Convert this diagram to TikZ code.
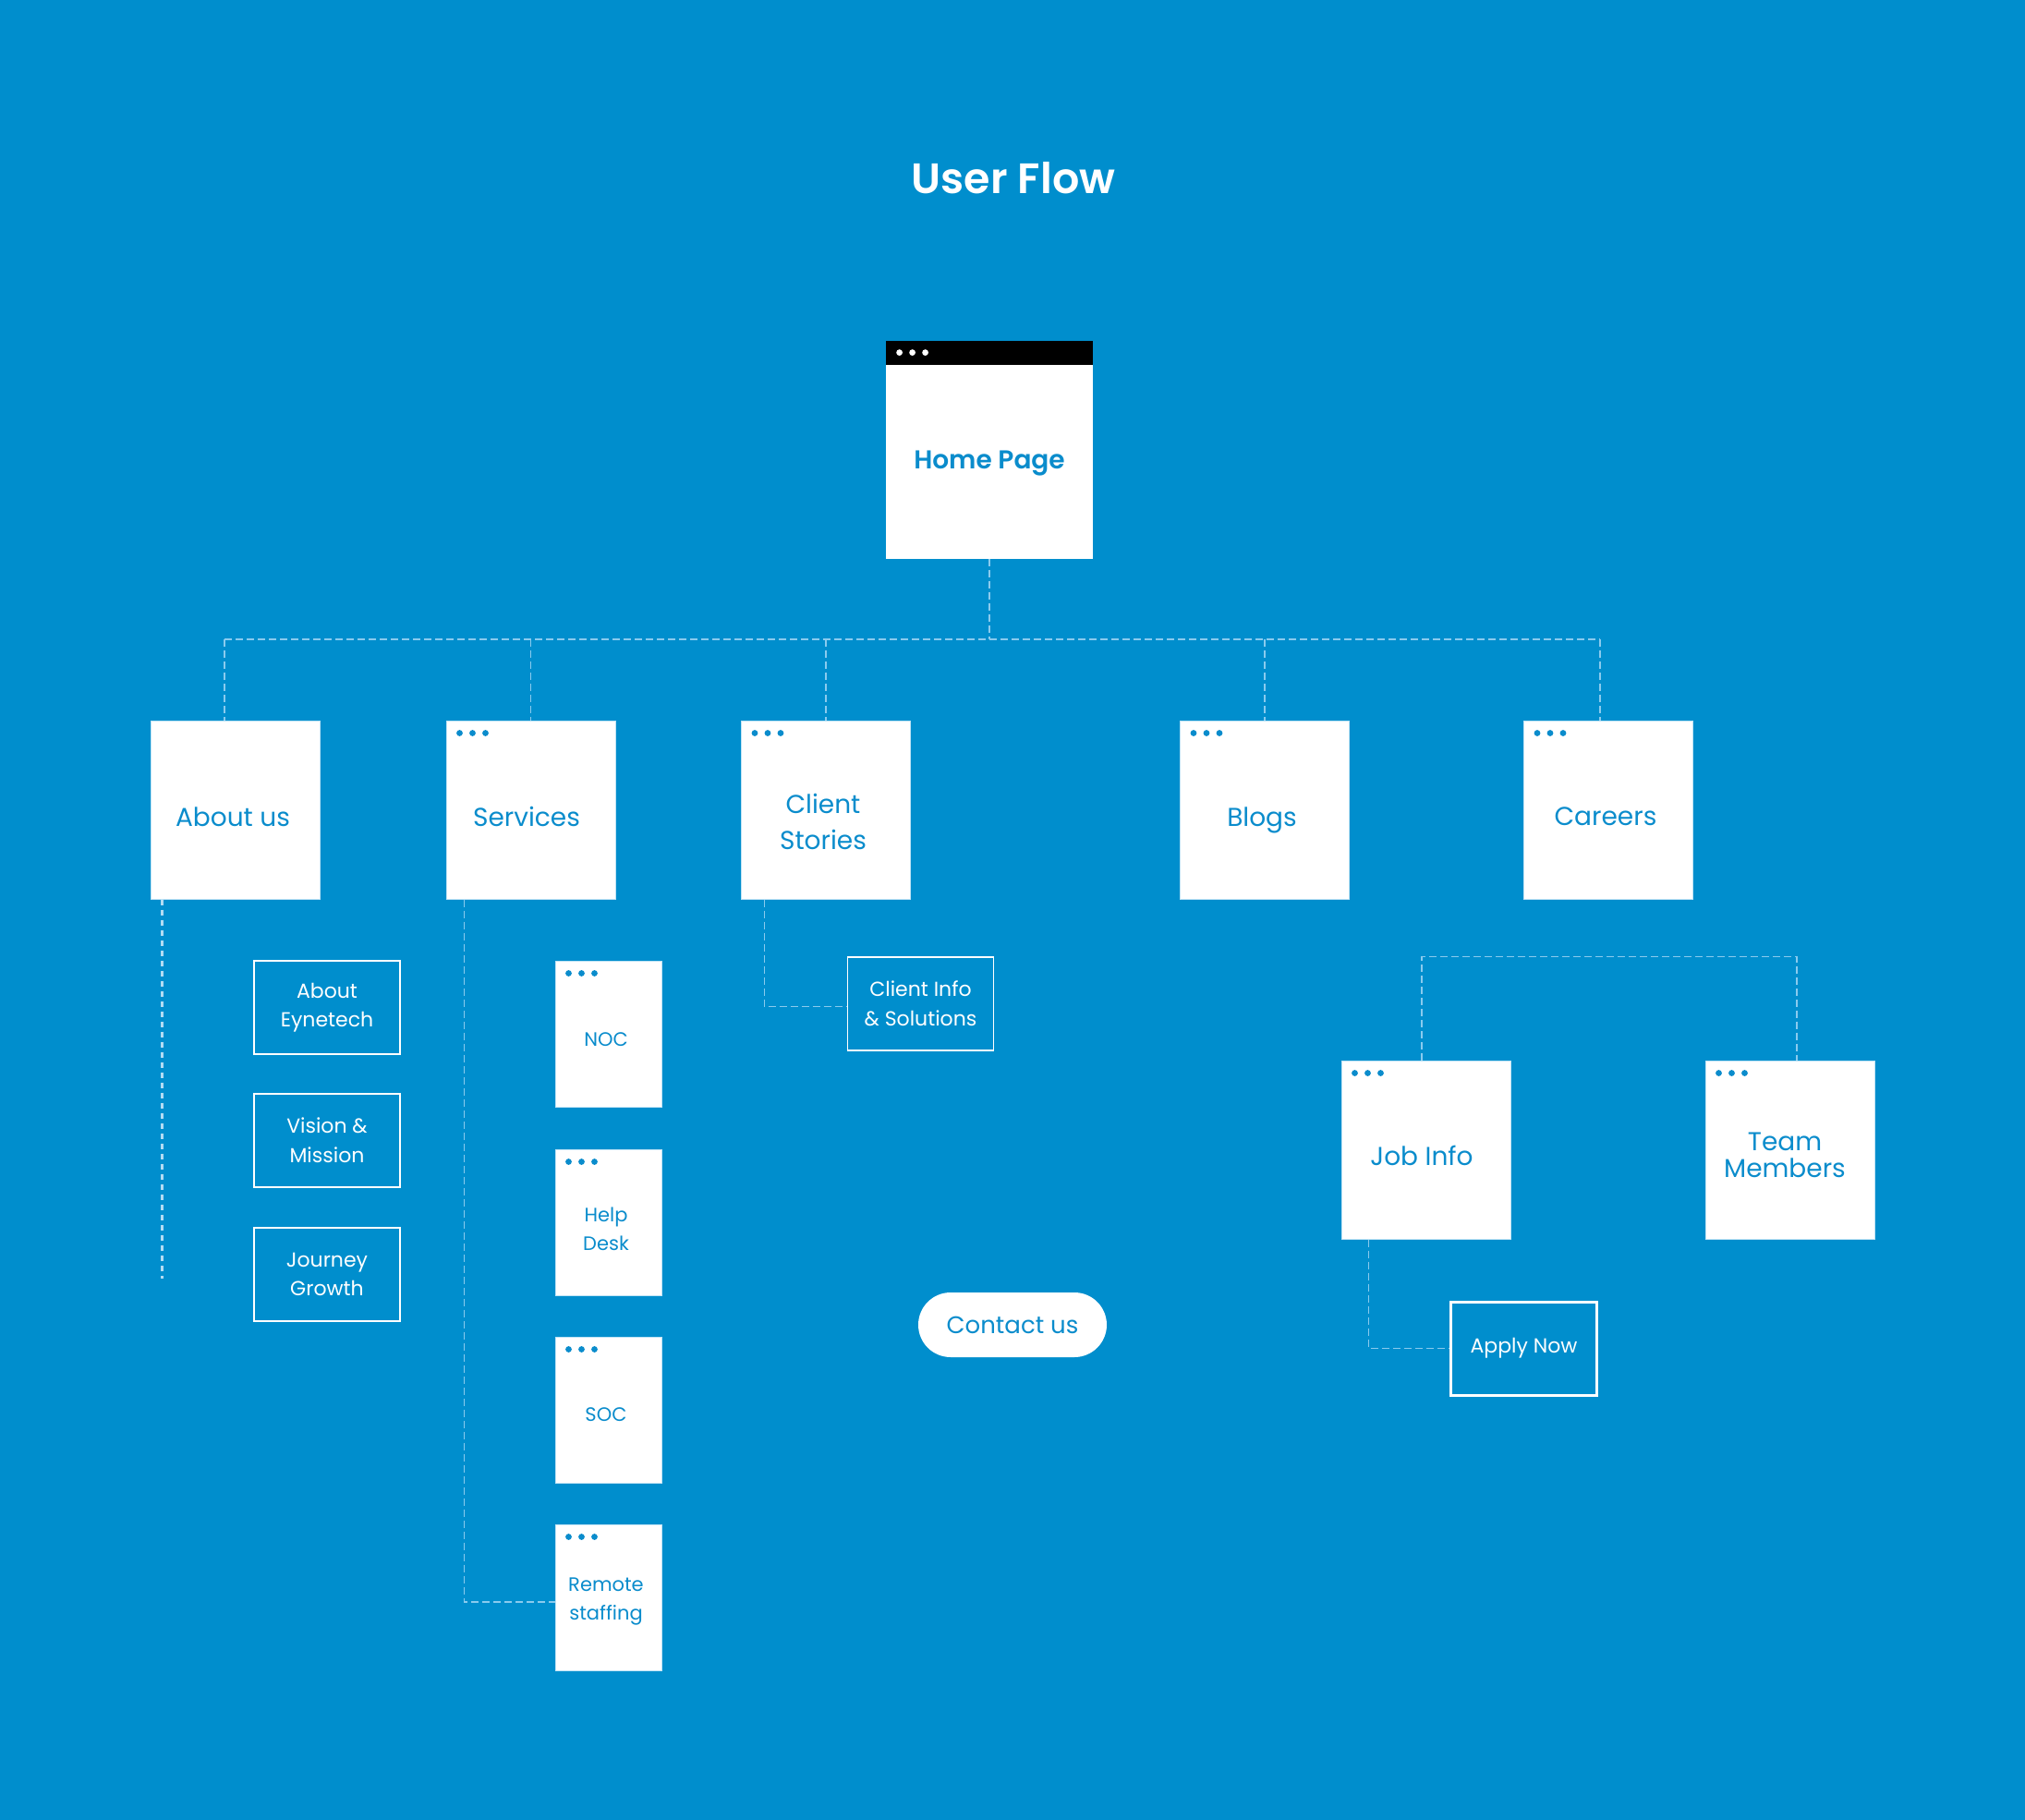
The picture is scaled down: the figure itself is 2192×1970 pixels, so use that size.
\documentclass[tikz,border=0pt]{standalone}
\usepackage{fontspec}
\setmainfont{Poppins}
\IfFontExistsTF{Poppins SemiBold}
  {\newfontfamily\semibold{Poppins SemiBold}}
  {\newcommand{\semibold}{\bfseries}}
\usetikzlibrary{calc}

\definecolor{bgblue}{HTML}{008ECD}
\definecolor{flowblue}{HTML}{0A8CCC}
\definecolor{linkblue}{HTML}{8ACBEE}
\definecolor{trackblue}{HTML}{B3DCF3}
\definecolor{edgeblue}{HTML}{BFE3F5}

\tikzset{
  pagebox/.style={fill=white, draw=edgeblue, line width=0.5pt, inner sep=0pt,
    minimum width=91.5pt, minimum height=96.5pt},
  smallpage/.style={pagebox, minimum width=57.5pt, minimum height=79pt},
  outlinebox/.style={draw=white, line width=0.8pt, inner sep=0pt,
    minimum width=79pt, minimum height=50.5pt},
  pagetext/.style={text=flowblue, align=center, font=\fontsize{14}{19.5}\selectfont},
  smalltext/.style={text=flowblue, align=center, font=\fontsize{10.5}{15.5}\selectfont},
  boxtext/.style={text=white, align=center, font=\fontsize{11}{15.8}\selectfont},
  link/.style={draw=linkblue, line width=0.75pt, dash pattern=on 4pt off 2pt},
}

% three window dots in the top left corner of a page
\newcommand{\pagedots}[2]{%
  \foreach \dx in {7.5,14.5,21.5}
    \fill[#2] ([xshift=\dx pt,yshift=-7pt]#1.north west) circle (1.7pt);
}

\begin{document}
\begin{tikzpicture}[x=0.5pt,y=-0.5pt]
\fill[bgblue] (0,0) rectangle (2192,1970);

% title
\node[text=white, font=\fontsize{23}{28}\selectfont\semibold] (title) at (1097,193) {User Flow};

% home page
\node[fill=white, inner sep=0pt, minimum width=112pt, minimum height=105pt] (home) at (1071,500) {};
\fill[black] ([yshift=13pt]home.north west) rectangle (home.north east);
\foreach \dx in {7.5,14.5,21.5}
  \fill[white] ([xshift=\dx pt,yshift=6.5pt]home.north west) circle (1.7pt);
\node[text=flowblue, font=\fontsize{14}{18}\selectfont\semibold] (homeTxt) at (1071,502) {Home Page};

% main pages
\node[pagebox] (about) at (254.5,876.5) {};
\node[pagebox] (services) at (574.5,876.5) {};
\node[pagebox] (client) at (894,876.5) {};
\node[pagebox] (blogs) at (1369,876.5) {};
\node[pagebox] (careers) at (1741,876.5) {};
\foreach \n in {services,client,blogs,careers} {\pagedots{\n}{flowblue}}

\node[pagetext] (aboutTxt) at (252,884) {About us};
\node[pagetext] (servicesTxt) at (570,884) {Services};
\node[pagetext] (clientTxt) at (891,889) {Client\\Stories};
\node[pagetext] (blogsTxt) at (1366,888) {Blogs};
\node[pagetext] (careersTxt) at (1738,884) {Careers};

% bus from the home page
\coordinate (busL) at (243,692);
\coordinate (busR) at (1732,692);
\draw[link] (busL) -- (busR);
\draw[link] (home.south) -- (home.south |- busL);
\draw[link] (busL) -- (busL |- about.north);
\foreach \n in {services,client,blogs}
  \draw[link] (\n.north |- busL) -- (\n.north);
\draw[link] (busR) -- (busR |- careers.north);

% about us
\coordinate (aboutEnd) at (175,1384);
\draw[trackblue, line width=1.5pt, dash pattern=on 3pt off 2.5pt] (aboutEnd |- about.south) -- (aboutEnd);
\node[outlinebox, boxtext] (eynetech) at (354,1090.5) {About\\Eynetech};
\node[outlinebox, boxtext] (vision) at (354,1234.5) {Vision \&\\Mission};
\node[outlinebox, boxtext] (journey) at (354,1379.5) {Journey\\Growth};

% services
\node[smallpage] (noc) at (658.5,1119) {};
\node[smallpage] (helpdesk) at (658.5,1323) {};
\node[smallpage] (soc) at (658.5,1526) {};
\node[smallpage] (remote) at (658.5,1729) {};
\foreach \n in {noc,helpdesk,soc,remote} {\pagedots{\n}{flowblue}}
\node[smalltext] (nocTxt) at (656,1125) {NOC};
\node[smalltext] (helpdeskTxt) at (656,1330) {Help\\Desk};
\node[smalltext] (socTxt) at (656,1531) {SOC};
\node[smalltext] (remoteTxt) at (656,1734) {Remote\\staffing};
\draw[link] ([xshift=10pt]services.south west) |- ([yshift=-2.5pt]remote.west);

% client stories
\node[outlinebox, boxtext] (clientinfo) at (996.5,1086.5) {Client Info\\\& Solutions};
\draw[link] ([xshift=12.75pt]client.south west) |- ([yshift=-1.5pt]clientinfo.west);

% careers
\node[pagebox] (jobinfo) at (1543.5,1244.5) {};
\node[pagebox] (team) at (1937.5,1244.5) {};
\pagedots{jobinfo}{flowblue}
\pagedots{team}{flowblue}
\node[pagetext] (jobinfoTxt) at (1539,1251) {Job Info};
\node[pagetext, font=\fontsize{14}{14.5}\selectfont] (teamTxt) at (1932,1250) {Team\\Members};
\draw[link] ([xshift=-2.25pt]jobinfo.north) -- ++(0,-112) -| ([xshift=3.75pt]team.north);
\node[outlinebox, line width=1.5pt, boxtext] (apply) at (1649.5,1459.5) {Apply Now};
\draw[link] ([xshift=15pt]jobinfo.south west) |- (apply.west);

% contact
\node[fill=white, rounded corners=17.5pt, minimum width=102pt, minimum height=35pt,
  text=flowblue, font=\fontsize{13}{16}\selectfont] (contact) at (1096,1434) {Contact us};
\end{tikzpicture}
\end{document}
